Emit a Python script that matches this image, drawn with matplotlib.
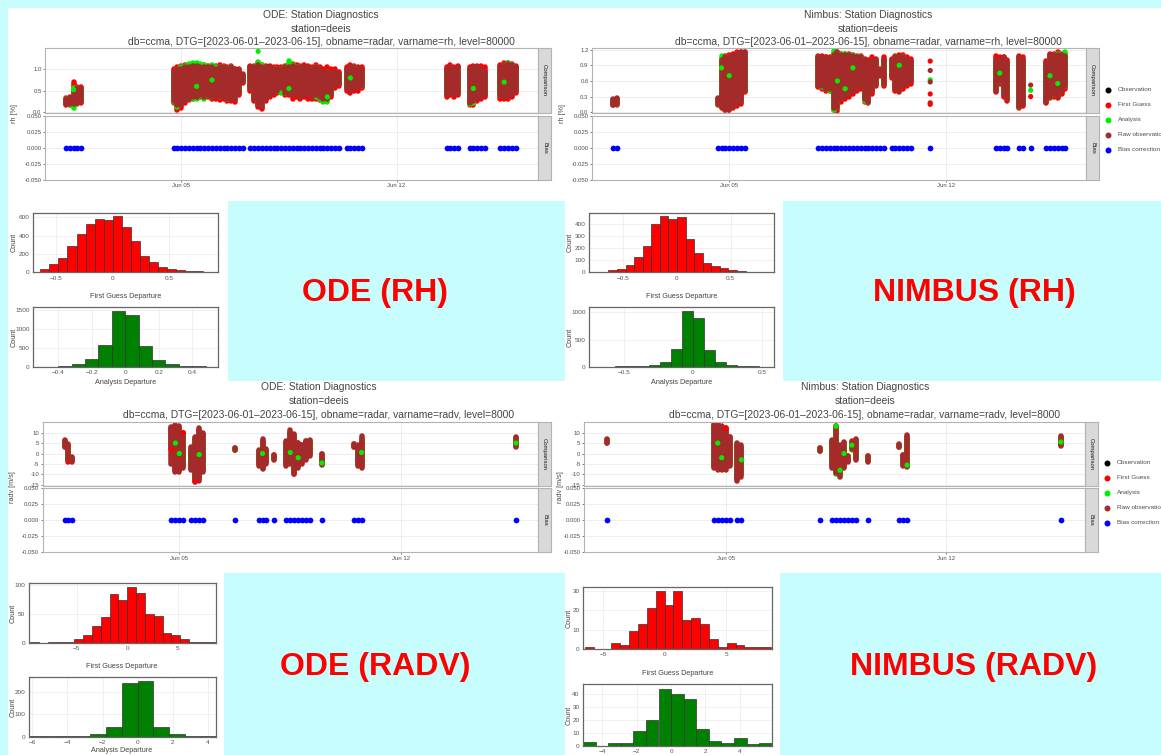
import matplotlib
matplotlib.use("Agg")
import matplotlib.pyplot as plt
from matplotlib.patches import Rectangle
from matplotlib.lines import Line2D

plt.rcParams['font.family'] = ['Liberation Sans', 'DejaVu Sans']

# ---------------- data ----------------
# time axis in days since 2023-06-01 00Z
date_ticks = [4, 11]
date_labels = ['Jun 05', 'Jun 12']

# ODE, rh: per analysis cycle, value range of each series
ode_rh_t = [0.25, 0.375, 0.5, 0.625, 0.75,
            3.75, 3.875, 4.0, 4.125, 4.25, 4.375, 4.5, 4.625, 4.75, 4.875, 5.0, 5.125, 5.25, 5.375, 5.5,
            5.625, 5.75, 5.875, 6.0,
            6.25, 6.375, 6.5, 6.625, 6.75, 6.875, 7.0, 7.125, 7.25, 7.375, 7.5, 7.625, 7.75, 7.875, 8.0,
            8.125, 8.25, 8.375, 8.5, 8.625, 8.75, 8.875, 9.0, 9.125,
            9.375, 9.5, 9.625, 9.75, 9.875,
            12.625, 12.75, 12.875, 13.0,
            13.375, 13.5, 13.625, 13.75, 13.875,
            14.375, 14.5, 14.625, 14.75, 14.875]
ode_rh_obs_lo = [.18, .18, .18, .20, .22,
                 .25, .15, .15, .25, .30, .35, .35, .40, .35, .40, .35, .35, .35, .35, .30, .30, .30, .45, .70,
                 .55, .30, .15, .12, .30, .40, .45, .50, .55, .45, .45, .40, .40, .35, .40, .40, .35, .40, .35,
                 .30, .30, .40, .60, .65,
                 .55, .50, .55, .55, .60,
                 .40, .45, .40, .45,
                 .20, .25, .30, .35, .40,
                 .40, .35, .35, .40, .50]
ode_rh_obs_hi = [.30, .33, .50, .55, .56,
                 .95, 1.00, 1.02, 1.05, 1.05, 1.08, 1.08, 1.05, 1.05, 1.05, 1.05, 1.02, 1.05, 1.05, 1.02, 1.05,
                 1.00, .98, .88,
                 1.05, 1.05, 1.10, 1.05, 1.05, 1.05, 1.00, 1.00, 1.02, 1.05, 1.05, 1.08, 1.05, 1.05, 1.05, 1.05,
                 1.00, 1.05, 1.00, .95, .95, .95, .95, .90,
                 1.00, 1.05, 1.05, 1.00, 1.00,
                 1.00, 1.05, 1.00, 1.05,
                 1.00, 1.05, 1.05, 1.00, .95,
                 1.05, 1.10, 1.12, 1.10, 1.05]
ode_rh_fg_lo = [.16, .16, .17, .18, .20,
                .20, .05, .08, .20, .28, .30, .32, .35, .32, .35, .30, .30, .28, .30, .25, .25, .22, .40, .68,
                .50, .25, .10, .07, .25, .35, .40, .45, .50, .40, .40, .30, .35, .30, .35, .30, .30, .30, .28,
                .25, .25, .35, .55, .60,
                .50, .45, .50, .50, .55,
                .35, .40, .35, .40,
                .15, .15, .25, .30, .35,
                .30, .30, .30, .35, .45]
ode_rh_fg_hi = [.32, .35, .70, .58, .58,
                1.00, 1.05, 1.08, 1.10, 1.08, 1.10, 1.12, 1.08, 1.10, 1.08, 1.08, 1.08, 1.10, 1.08, 1.05, 1.08,
                1.02, 1.02, .90,
                1.08, 1.08, 1.15, 1.10, 1.08, 1.08, 1.05, 1.05, 1.05, 1.08, 1.10, 1.12, 1.10, 1.08, 1.10, 1.08,
                1.05, 1.10, 1.05, 1.00, 1.05, 1.00, 1.00, .95,
                1.05, 1.10, 1.08, 1.05, 1.05,
                1.05, 1.10, 1.05, 1.08,
                1.05, 1.08, 1.08, 1.08, 1.05,
                1.10, 1.15, 1.15, 1.12, 1.08]
ode_rh_an_lo = [.20, .15, .08, .20, .25,
                .22, .12, .18, .30, .30, .30, .30, .38, .30, .40, .35, .40, .35, .38, .30, .35, .32, .50, .75,
                .60, .35, .20, .15, .35, .45, .50, .50, .45, .45, .50, .45, .45, .40, .45, .45, .40, .35, .30,
                .22, .22, .45, .65, .70,
                .60, .55, .60, .58, .62,
                .45, .50, .45, .50,
                .18, .20, .35, .40, .45,
                .40, .40, .40, .45, .55]
ode_rh_an_hi = [.30, .30, .55, .55, .50,
                .90, 1.00, 1.05, 1.08, 1.12, 1.15, 1.15, 1.12, 1.10, 1.05, 1.10, 1.05, 1.05, 1.05, 1.00, 1.05,
                .95, .90, .85,
                1.00, 1.05, 1.18, 1.10, 1.00, 1.00, 1.00, 1.00, 1.00, 1.05, 1.20, 1.10, 1.05, 1.05, 1.00, 1.00,
                1.00, 1.05, .95, .90, .95, .85, .90, .85,
                .95, 1.00, 1.05, .98, .95,
                .95, 1.00, .95, 1.00,
                .95, 1.00, 1.00, .95, .90,
                1.00, 1.10, 1.15, 1.10, 1.00]
ode_rh_pts_t = [6.5, 0.5, 4.5, 5.0, 7.5, 8.75, 9.5, 13.5, 14.5]
ode_rh_pts_y = [1.43, 0.52, 0.60, 0.75, 0.55, 0.35, 0.80, 0.55, 0.70]
ode_rh_pts_c = ['an', 'an', 'an', 'an', 'an', 'an', 'an', 'an', 'an']
ode_rh_bias_t = ode_rh_t

# Nimbus, rh
nim_rh_t = [0.25, 0.375,
            3.625, 3.75, 3.875, 4.0, 4.125, 4.25, 4.375, 4.5,
            6.875, 7.0, 7.125, 7.25, 7.375, 7.5, 7.625, 7.75, 7.875, 8.0, 8.125, 8.25, 8.375, 8.5, 8.625,
            8.75, 8.875, 9.0,
            9.25, 9.375, 9.5, 9.625, 9.75, 9.875,
            12.625, 12.75, 12.875, 13.0,
            13.375, 13.5,
            14.25, 14.375, 14.5, 14.625, 14.75, 14.875]
nim_rh_obs_lo = [.14, .15,
                 .15, .10, .05, .05, .10, .15, .20, .40,
                 .50, .50, .45, .45, .08, .10, .25, .30, .35, .40, .45, .50, .25, .20, .40, .55, .72, .55,
                 .70, .45, .40, .50, .55, .60,
                 .40, .60, .35, .25,
                 .10, .15,
                 .20, .30, .35, .30, .40, .50]
nim_rh_obs_hi = [.25, .27,
                 .27, 1.00, 1.05, 1.05, 1.10, 1.10, 1.15, 1.15,
                 1.05, 1.05, 1.05, 1.02, 1.10, 1.15, 1.10, 1.10, 1.10, 1.08, 1.05, 1.05, 1.00, .95, 1.00,
                 1.00, .80, 1.00,
                 1.00, 1.05, 1.05, 1.05, 1.00, .98,
                 1.00, 1.00, 1.05, .95,
                 1.05, 1.00,
                 .95, 1.10, 1.10, 1.10, 1.10, 1.08]
nim_rh_fg_lo = [.13, .14,
                .13, .08, .05, .04, .08, .12, .15, .38,
                .48, .45, .40, .40, .05, .03, .20, .25, .30, .35, .40, .45, .20, .18, .35, .50, .70, .50,
                .65, .40, .38, .45, .50, .55,
                .38, .55, .30, .22,
                .08, .12,
                .18, .28, .30, .28, .35, .45]
nim_rh_fg_hi = [.24, .26,
                .25, 1.02, 1.08, 1.10, 1.12, 1.15, 1.15, 1.15,
                1.07, 1.07, 1.05, 1.05, 1.12, 1.15, 1.12, 1.12, 1.12, 1.10, 1.08, 1.08, 1.02, 1.00, 1.05,
                1.02, .82, 1.05,
                1.02, 1.08, 1.10, 1.10, 1.05, 1.02,
                1.08, 1.05, 1.05, 1.00,
                1.07, 1.05,
                .98, 1.12, 1.12, 1.15, 1.12, 1.10]
nim_rh_an_lo = [.15, .16,
                .15, .15, .10, .10, .15, .40, .40, .42,
                .52, .48, .45, .40, .05, .10, .35, .40, .42, .45, .50, .52, .22, .20, .45, .58, .74, .55,
                .75, .50, .45, .55, .60, .65,
                .45, .60, .40, .28,
                .10, .18,
                .30, .30, .35, .32, .45, .50]
nim_rh_an_hi = [.22, .25,
                .25, 1.08, 1.05, 1.05, 1.08, 1.10, 1.10, 1.12,
                1.05, 1.00, 1.00, 1.00, 1.18, 1.15, 1.12, 1.12, 1.10, 1.10, 1.05, 1.05, .95, .90, .95,
                .98, .78, .95,
                .98, 1.05, 1.00, 1.05, .98, .95,
                .95, .95, 1.00, .90,
                1.00, .95,
                .90, 1.05, 1.10, 1.12, 1.10, 1.15]
nim_rh_pts_t = [10.5, 10.5, 10.5, 10.5, 10.5, 10.5, 10.5, 13.75, 13.75, 13.75,
                3.75, 4.0, 7.5, 7.75, 8.0, 9.5, 12.75, 14.375, 14.625]
nim_rh_pts_y = [.98, .80, .62, .58, .35, .18, .15, .52, .42, .30,
                .85, .70, .60, .45, .85, .90, .75, .70, .55]
nim_rh_pts_c = ['fg', 'obs', 'an', 'obs', 'fg', 'obs', 'fg', 'obs', 'an', 'fg',
                'an', 'an', 'an', 'an', 'an', 'an', 'an', 'an', 'an']
nim_rh_bias_t = nim_rh_t + [10.5, 13.75]

# ODE, radv
ode_rv_t = [0.375, 0.5, 0.625, 3.75, 3.875, 4.0, 4.125, 4.375, 4.5, 4.625, 4.75, 5.75,
            6.5, 6.625, 6.75, 7.0, 7.375, 7.5, 7.625, 7.75, 7.875, 8.0, 8.125, 8.5, 9.5, 9.625, 9.75, 14.625]
ode_rv_obs_lo = [3, -3, -4, -5, -9, -9, -7, -8, -13.5, -13, -9, 1.5,
                 -6, -7.5, -5, -3, -6, -5, -10, -7, -5, -3, -1, -5.5, 3, -6, -7, 3]
ode_rv_obs_hi = [6.5, 4.5, -1.5, 12.5, 13.8, 13, 10, 3, 8, 12, 10, 2.5,
                 1.5, 7, 2, -0.5, 6, 11, 9.5, 5, 4, 6, 6.5, 0, 4.5, 4, 8.5, 8]
ode_rv_fg_lo = [3, -4, -3.5, 2, -8, -8, -6, -7, -13, -12, -8, 1.5,
                -5, -7, -4, -2.5, -5, -4, -10, -6, -4, -2, 0, -4.5, 3, -5, -6, 3.5]
ode_rv_fg_hi = [6, 4, -2, 12, 13, 12.5, 10, 2, 7, 11, 9, 2.5,
                1, 6, 1.5, -0.5, 5, 10, 9, 5, 4, 6, 6, 0, 4.5, 3, 7, 7.5]
ode_rv_an_lo = [3.5, -2, -3.5, 5, -5, -5, -4, -6, -11.5, -10, -6, 1.8,
                -4, -5, -3, -2, -4, -3, -8, -5, -3, -2, 1, -5, 3.5, -4, -5, 4]
ode_rv_an_hi = [5, 3, -2, 8, 12, 11, 9, 2, 6, 10, 8, 2.2,
                0.5, 4, 1, -1, 4, 8, 7, 4, 3, 5, 5, -1, 4, 2, 6, 7]
ode_rv_pts_t = [3.75, 4.125, 4.5, 3.875, 4.0, 4.625, 6.625, 7.5, 7.75, 9.75, 14.625, 8.5]
ode_rv_pts_y = [2.0, 10.0, -13.5, 5.0, 0.0, -0.5, 0.0, 0.5, -2.0, 0.5, 5.0, -4.5]
ode_rv_pts_c = ['fg', 'fg', 'fg', 'an', 'an', 'an', 'an', 'an', 'an', 'an', 'an', 'an']
ode_rv_bias_t = ode_rv_t

# Nimbus, radv
nim_rv_t = [0.25, 3.625, 3.75, 3.875, 4.0, 4.125, 4.375, 4.5, 7.0,
            7.375, 7.5, 7.625, 7.75, 7.875, 8.0, 8.125, 8.5, 9.5, 9.625, 9.75, 14.625]
nim_rv_obs_lo = [5, -7, -8, -8, -8, -6, -13, -11, 1, -7, -9.5, -11, -7, -4, 2, -3, -4, 3, -6, -6.5, 3.5]
nim_rv_obs_hi = [7, 14, 14, 13, 12, 8, 5, 4, 2.5, 6.5, 13, 4, 5.5, -1, 6, 7, -1, 4.5, -0.5, 9, 8.5]
nim_rv_fg_lo = [5, -6, -7, -7, -7, -5, -12, -10, 1, -6, -9, -10, -6, -3.5, 2, -2, -3.5, 3, -5.5, -6, 4]
nim_rv_fg_hi = [6.5, 13, 13, 12, 12, 8, 4, 3, 2.5, 6, 12, 3.5, 5, -1, 5.5, 6.5, -1, 4, -0.5, 8, 8]
nim_rv_an_lo = [5.5, -5, -6, -6, -6, -4, -11, -9, 1.2, -5, -10, -10.5, -5, -3, 1.5, -2, -3.5, 3.2, -5, -6, 4.5]
nim_rv_an_hi = [6.5, 12, 13, 12, 11, 7, 4, 3, 2.2, 5, 13, 3, 4.5, -1.5, 5, 6, -1.5, 4, -1, 7, 7.5]
nim_rv_pts_t = [4.0, 7.5, 3.75, 3.875, 4.5, 7.625, 7.75, 8.0, 9.75, 14.625]
nim_rv_pts_y = [12.0, 13.0, 5.0, -2.0, -3.0, -8.0, 0.0, 4.0, -5.5, 5.5]
nim_rv_pts_c = ['fg', 'an', 'an', 'an', 'an', 'an', 'an', 'an', 'an', 'an']
nim_rv_bias_t = nim_rv_t

# histograms: bin left edges and counts
ode_rh_fg_left = [-0.72, -0.64, -0.56, -0.48, -0.40, -0.32, -0.24, -0.16, -0.08, 0.00,
                  0.08, 0.16, 0.24, 0.32, 0.40, 0.48, 0.56, 0.64, 0.72, 0.80]
ode_rh_fg_count = [2, 33, 87, 160, 287, 415, 527, 578, 567, 615, 498, 345, 178, 109, 62, 36, 22, 15, 11, 4]
ode_rh_an_left = [-0.56, -0.48, -0.40, -0.32, -0.24, -0.16, -0.08, 0.00, 0.08, 0.16, 0.24, 0.32, 0.40, 0.48]
ode_rh_an_count = [2, 5, 25, 60, 190, 560, 1475, 1360, 545, 185, 60, 25, 8, 3]
nim_rh_fg_left = [-0.80, -0.72, -0.64, -0.56, -0.48, -0.40, -0.32, -0.24, -0.16, -0.08, 0.00,
                  0.08, 0.16, 0.24, 0.32, 0.40, 0.48, 0.56, 0.64, 0.72, 0.80]
nim_rh_fg_count = [2, 5, 19, 30, 58, 125, 219, 403, 469, 447, 461, 278, 158, 80, 50, 33, 19, 14, 6, 2, 1]
nim_rh_an_left = [-0.72, -0.64, -0.56, -0.48, -0.40, -0.32, -0.24, -0.16, -0.08, 0.00,
                  0.08, 0.16, 0.24, 0.32, 0.40, 0.48]
nim_rh_an_count = [3, 2, 4, 6, 15, 35, 90, 335, 1035, 890, 305, 95, 35, 12, 5, 3]
ode_rv_fg_left = [-9.57, -8.7, -7.83, -6.96, -6.09, -5.22, -4.35, -3.48, -2.61, -1.74, -0.87, 0.0,
                  0.87, 1.74, 2.61, 3.48, 4.35, 5.22, 6.09, 6.96, 7.83]
ode_rv_fg_count = [1, 0, 2, 1, 2, 6, 14, 29, 45, 84, 74, 97, 86, 49, 47, 16, 14, 6, 1, 2, 1]
ode_rv_an_left = [-6.3, -5.4, -4.5, -3.6, -2.7, -1.8, -0.9, 0.0, 0.9, 1.8, 2.7, 3.6]
ode_rv_an_count = [2, 1, 2, 3, 12, 41, 237, 247, 41, 12, 3, 3]
nim_rv_fg_left = [-6.48, -5.76, -5.04, -4.32, -3.6, -2.88, -2.16, -1.44, -0.72, 0.0, 0.72,
                  1.44, 2.16, 2.88, 3.6, 4.32, 5.04, 5.76, 6.48, 7.2, 7.92]
nim_rv_fg_count = [1, 0, 0, 3, 2, 9, 13, 21, 30, 23, 30, 15, 16, 13, 5, 1, 3, 2, 1, 1, 1]
nim_rv_an_left = [-5.13, -4.4, -3.67, -2.93, -2.2, -1.47, -0.73, 0.0, 0.73, 1.47, 2.2, 2.93, 3.67, 4.4, 5.13]
nim_rv_an_count = [3, 0, 2, 2, 11, 20, 44, 40, 36, 13, 4, 2, 6, 1, 2]

legend_labels = ['Observation', 'First Guess', 'Analysis', 'Raw observation', 'Bias correction']

# ---------------- style ----------------
W, H = 1161, 755
CYAN = '#c8fdfd'
RED, GREEN, BROWN, BLUE = '#ff0000', '#00ee00', '#a52a2a', '#0000ff'
SERIES = {'obs': BROWN, 'fg': RED, 'an': GREEN}
legend_colors = ['black', RED, GREEN, BROWN, BLUE]
TXT = '#444444'

fig = plt.figure(figsize=(W / 100, H / 100), dpi=100)
fig.patch.set_facecolor(CYAN)


def box(x0, y0, x1, y1):
    return [x0 / W, 1 - y1 / H, (x1 - x0) / W, (y1 - y0) / H]


def ftext(x, y, s, **kw):
    kw.setdefault('ha', 'center')
    kw.setdefault('va', 'center')
    return fig.text(x / W, 1 - y / H, s, **kw)


def frect(x0, y0, x1, y1, color):
    fig.patches.append(Rectangle((x0 / W, 1 - y1 / H), (x1 - x0) / W, (y1 - y0) / H,
                                 transform=fig.transFigure, facecolor=color, edgecolor='none', zorder=-5))


# page background: white sheet with cyan label boxes
frect(8, 8, W, H, 'white')
frect(228, 201, 565, 381, CYAN)
frect(783, 201, W, 381, CYAN)
frect(224, 573, 565, H, CYAN)
frect(780, 573, W, H, CYAN)


def style_diag(ax, xlim, ylim, yticks, ylabels):
    ax.set_xlim(*xlim)
    ax.set_ylim(*ylim)
    ax.set_yticks(yticks)
    ax.set_yticklabels(ylabels)
    ax.set_xticks(date_ticks)
    ax.grid(True, color='#ebebeb', linewidth=0.6)
    ax.set_axisbelow(True)
    ax.tick_params(labelsize=4.3, colors='#4d4d4d', length=1.5, width=0.5, pad=1)
    for s in ax.spines.values():
        s.set_color('#b3b3b3')
        s.set_linewidth(0.8)


def strip(x0, y0, x1, y1, label):
    sa = fig.add_axes(box(x0, y0, x1, y1))
    sa.set_facecolor('#d9d9d9')
    sa.set_xticks([])
    sa.set_yticks([])
    for s in sa.spines.values():
        s.set_color('#b3b3b3')
        s.set_linewidth(0.8)
    sa.text(0.5, 0.5, label, rotation=-90, ha='center', va='center', fontsize=4.3,
            color='#1a1a1a', transform=sa.transAxes)


def diag_panel(x0, x1, yc0, yc1, yb0, yb1, xlim, ylim, yticks, ylabels, ylabel, ylabel_x,
               title, title_x, title_y, t, obs_lo, obs_hi, fg_lo, fg_hi, an_lo, an_hi,
               pts_t, pts_y, pts_c, bias_t):
    comp = fig.add_axes(box(x0, yc0, x1, yc1))
    for lo, hi, col in [(fg_lo, fg_hi, RED), (an_lo, an_hi, GREEN), (obs_lo, obs_hi, BROWN)]:
        lc = comp.vlines(t, lo, hi, colors=col, linewidth=4.0)
        lc.set_capstyle('round')
    comp.scatter(pts_t, pts_y, s=14, c=[SERIES[c] for c in pts_c], linewidths=0, zorder=3)
    style_diag(comp, xlim, ylim, yticks, ylabels)
    comp.tick_params(axis='x', length=0, labelbottom=False)

    bias = fig.add_axes(box(x0, yb0, x1, yb1))
    bias.scatter(bias_t, [0.0] * len(bias_t), s=17, color=BLUE, linewidths=0, zorder=3)
    style_diag(bias, xlim, (-0.05, 0.05), [-0.05, -0.025, 0.0, 0.025, 0.05],
               ['-0.050', '-0.025', '0.000', '0.025', '0.050'])
    bias.set_xticklabels(date_labels)

    strip(x1, yc0, x1 + 13, yc1, 'Comparison')
    strip(x1, yb0, x1 + 13, yb1, 'Bias')

    ftext(ylabel_x, (yc0 + yb1) / 2, ylabel, rotation=90, fontsize=5.2, color='#4d4d4d')
    for i, line in enumerate(title):
        ftext(title_x, title_y + i * 13.5, line, fontsize=7.4, color=TXT)


def legend(x, y0):
    for i, (lab, col) in enumerate(zip(legend_labels, legend_colors)):
        y = y0 + i * 15
        fig.add_artist(Line2D([x / W], [1 - y / H], marker='o', markersize=3.3, color=col,
                              linestyle='none', transform=fig.transFigure))
        ftext(x + 10, y, lab, ha='left', fontsize=4.6, color='#4d4d4d')


def fmt(v):
    return ('%g' % v).replace('-', '\u2212')


def hist_panel(x0, y0, x1, y1, left, count, width, color, xlim, ylim, xticks, yticks,
               xlabel, xlabel_x, xlabel_y, count_x):
    ax = fig.add_axes(box(x0, y0, x1, y1))
    ax.bar(left, count, width=width, align='edge', color=color, edgecolor='#333333', linewidth=0.5)
    ax.set_xlim(*xlim)
    ax.set_ylim(*ylim)
    ax.set_xticks(xticks)
    ax.set_xticklabels([fmt(v) for v in xticks])
    ax.set_yticks(yticks)
    ax.set_yticklabels([fmt(v) for v in yticks])
    ax.grid(True, color='#eeeeee', linewidth=0.6)
    ax.set_axisbelow(True)
    ax.tick_params(labelsize=4.6, colors='#555555', length=0, pad=2.5)
    for s in ax.spines.values():
        s.set_color('#666666')
        s.set_linewidth(0.9)
    ftext(count_x, (y0 + y1) / 2, 'Count', rotation=90, fontsize=5.2, color=TXT)
    if xlabel:
        ftext(xlabel_x, xlabel_y, xlabel, fontsize=5.2, color=TXT)


# ---------------- diagnostics panels ----------------
rh_title = ['ODE: Station Diagnostics', 'station=deeis',
            'db=ccma, DTG=[2023-06-01\u20132023-06-15], obname=radar, varname=rh, level=80000']
diag_panel(45, 538, 48, 112.7, 115.7, 180, (-0.43, 15.6), (-0.025, 1.51), [0, 0.5, 1.0],
           ['0.0', '0.5', '1.0'], 'rh [%]', 14, rh_title, 321, 15,
           ode_rh_t, ode_rh_obs_lo, ode_rh_obs_hi, ode_rh_fg_lo, ode_rh_fg_hi, ode_rh_an_lo, ode_rh_an_hi,
           ode_rh_pts_t, ode_rh_pts_y, ode_rh_pts_c, ode_rh_bias_t)

diag_panel(592, 1086, 48, 112.7, 115.7, 180, (-0.44, 15.54), (-0.01, 1.232), [0, 0.3, 0.6, 0.9, 1.2],
           ['0.0', '0.3', '0.6', '0.9', '1.2'], 'rh [%]', 562,
           ['Nimbus: Station Diagnostics'] + rh_title[1:], 868, 15,
           nim_rh_t, nim_rh_obs_lo, nim_rh_obs_hi, nim_rh_fg_lo, nim_rh_fg_hi, nim_rh_an_lo, nim_rh_an_hi,
           nim_rh_pts_t, nim_rh_pts_y, nim_rh_pts_c, nim_rh_bias_t)
legend(1108, 89.5)

rv_title = ['ODE: Station Diagnostics', 'station=deeis',
            'db=ccma, DTG=[2023-06-01\u20132023-06-15], obname=radar, varname=radv, level=8000']
rv_ticks = [-15, -10, -5, 0, 5, 10]
rv_labels = ['-15', '-10', '-5', '0', '5', '10']
diag_panel(42.5, 538, 421.7, 486, 487.7, 552.3, (-0.32, 15.32), (-15.5, 15.2), rv_ticks, rv_labels,
           'radv [m/s]', 13, rv_title, 319, 387.5,
           ode_rv_t, ode_rv_obs_lo, ode_rv_obs_hi, ode_rv_fg_lo, ode_rv_fg_hi, ode_rv_an_lo, ode_rv_an_hi,
           ode_rv_pts_t, ode_rv_pts_y, ode_rv_pts_c, ode_rv_bias_t)

diag_panel(584, 1085, 421.7, 486, 487.7, 552.3, (-0.49, 15.39), (-15.5, 15.2), rv_ticks, rv_labels,
           'radv [m/s]', 561, ['Nimbus: Station Diagnostics'] + rv_title[1:], 865, 387.5,
           nim_rv_t, nim_rv_obs_lo, nim_rv_obs_hi, nim_rv_fg_lo, nim_rv_fg_hi, nim_rv_an_lo, nim_rv_an_hi,
           nim_rv_pts_t, nim_rv_pts_y, nim_rv_pts_c, nim_rv_bias_t)
legend(1107, 462.5)

# ---------------- histograms ----------------
hist_panel(33.3, 212.7, 218.3, 272.3, ode_rh_fg_left, ode_rh_fg_count, 0.08, RED,
           (-0.703, 0.937), (0, 651), [-0.5, 0, 0.5], [0, 200, 400, 600],
           'First Guess Departure', 126, 296, 14)
hist_panel(33.3, 307.3, 218.3, 366.7, ode_rh_an_left, ode_rh_an_count, 0.08, 'green',
           (-0.548, 0.555), (0, 1560), [-0.4, -0.2, 0, 0.2, 0.4], [0, 500, 1000, 1500],
           'Analysis Departure', 126, 382, 14)
hist_panel(589.2, 212.7, 774.2, 272.3, nim_rh_fg_left, nim_rh_fg_count, 0.08, RED,
           (-0.82, 0.908), (0, 497), [-0.5, 0, 0.5], [0, 100, 200, 300, 400],
           'First Guess Departure', 682, 296, 570)
hist_panel(589.2, 307.3, 774.2, 366.7, nim_rh_an_left, nim_rh_an_count, 0.08, 'green',
           (-0.749, 0.588), (0, 1095), [-0.5, 0, 0.5], [0, 500, 1000],
           'Analysis Departure', 682, 382, 570)
hist_panel(28.9, 583.3, 215.7, 642.7, ode_rv_fg_left, ode_rv_fg_count, 0.87, RED,
           (-9.7, 8.72), (0, 103), [-5, 0, 5], [0, 50, 100],
           'First Guess Departure', 122, 666.7, 13)
hist_panel(28.9, 677.3, 215.7, 736.7, ode_rv_an_left, ode_rv_an_count, 0.9, 'green',
           (-6.2, 4.45), (0, 264), [-6, -4, -2, 0, 2, 4], [0, 100, 200],
           'Analysis Departure', 122, 751, 13)
hist_panel(583, 587.3, 772.4, 648.7, nim_rv_fg_left, nim_rv_fg_count, 0.72, RED,
           (-6.62, 8.75), (0, 32), [-5, 0, 5], [0, 10, 20, 30],
           'First Guess Departure', 678, 673.3, 569)
# the x-axis title of this last panel falls below the page edge
hist_panel(583, 684.3, 772.4, 745.7, nim_rv_an_left, nim_rv_an_count, 0.733, 'green',
           (-5.13, 5.9), (0, 47.5), [-4, -2, 0, 2, 4], [0, 10, 20, 30, 40],
           None, 678, 762, 569)

# ---------------- big labels ----------------
big = dict(fontsize=23, fontweight='bold', color='#ff0000')
ftext(375.5, 293, 'ODE (RH)', **big)
ftext(974, 293, 'NIMBUS (RH)', **big)
ftext(375.5, 666.5, 'ODE (RADV)', **big)
ftext(974, 666.5, 'NIMBUS (RADV)', **big)

fig.savefig('out.png', dpi=100, facecolor=fig.get_facecolor())
